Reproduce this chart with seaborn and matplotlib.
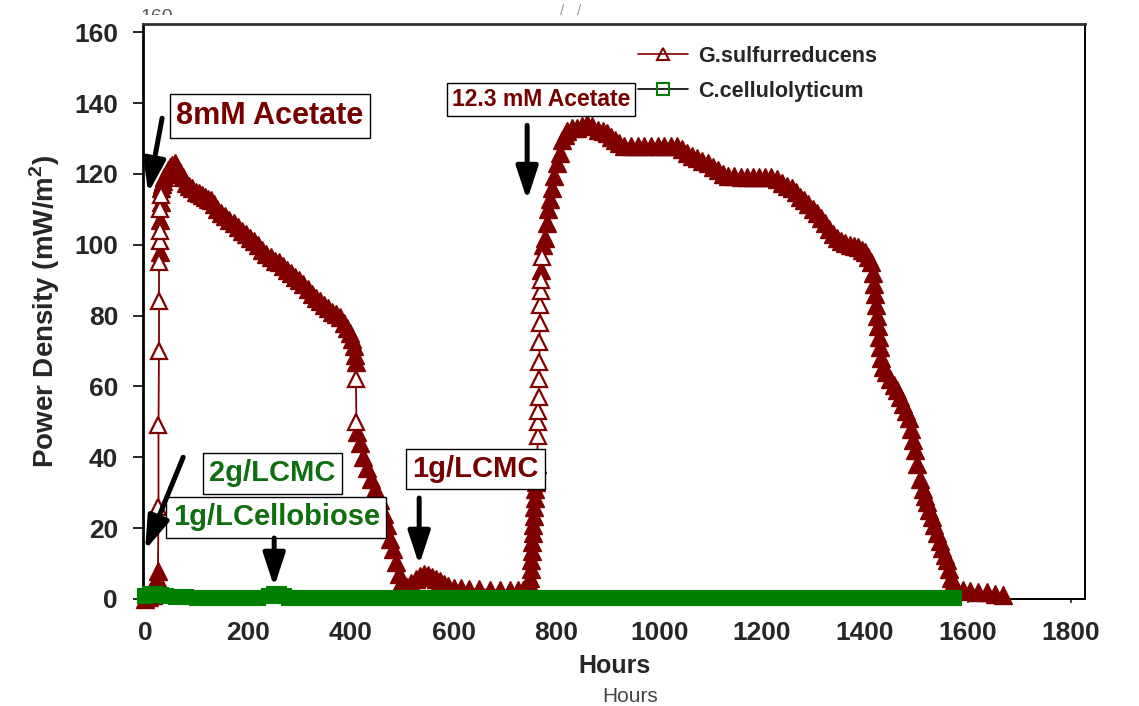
import matplotlib
matplotlib.use("Agg")
import numpy as np
import pandas as pd
import matplotlib.pyplot as plt
from matplotlib.lines import Line2D
from matplotlib.patches import Rectangle
import seaborn as sns

# G. sulfurreducens power density (mW/m2) vs time (h)
g_hours = [0, 8, 16, 21, 23, 24, 25, 26, 26, 27, 27, 27, 28, 28,
           28, 29, 29, 30, 30, 31, 32, 34, 37, 41, 45, 49, 53, 58,
           62, 68, 74, 80, 86, 92, 98, 104, 110, 116,
           122, 128, 134, 140, 148, 156, 164, 172, 180, 188,
           196, 204, 212, 220, 228, 236, 244, 252, 260, 268,
           276, 284, 292, 300, 308, 316, 324, 332, 340, 348,
           356, 364, 372, 380, 386, 392, 398, 403, 406, 408,
           410, 410, 411, 412, 418, 424, 432, 440, 448, 457,
           464, 470, 476, 482, 488, 494, 500, 506, 510,
           518, 526, 534, 542, 550, 558, 566, 574, 582, 590,
           600, 615, 630, 650, 670, 690, 710, 725, 735, 742, 746,
           749, 750, 751, 752, 753, 754, 755, 756, 757, 758,
           759, 760, 762, 764, 765, 765, 766,
           766, 767, 767, 768, 768, 769, 769, 770, 771, 774,
           778, 781, 784, 788, 791, 796, 801, 806, 811, 816, 820,
           830, 840, 850, 860, 870, 880, 890,
           898, 906, 914, 922, 932,
           945, 958, 971, 984, 997,
           1010, 1022, 1034, 1044, 1054,
           1064, 1074, 1084, 1094, 1104,
           1114, 1124, 1134, 1146, 1158,
           1170, 1182, 1194, 1206, 1218,
           1228, 1238, 1248, 1258, 1266,
           1274, 1282, 1290, 1298, 1306,
           1314, 1322, 1330, 1338, 1346,
           1354, 1362, 1370, 1378, 1386, 1394,
           1400, 1406, 1411, 1415, 1418, 1420, 1422, 1424, 1426, 1428,
           1430, 1432, 1435, 1440, 1448, 1456, 1462, 1468, 1474, 1480,
           1486, 1490, 1494, 1498, 1502, 1507, 1512, 1516, 1520, 1525,
           1530, 1535, 1540, 1545, 1550, 1555, 1559, 1563, 1567, 1571,
           1578, 1590, 1605, 1620, 1637, 1652, 1668]
g_power = [0, 0.5, 1, 2, 4, 6, 8, 26, 49, 70, 84, 95, 98, 101,
           104, 107, 110, 112, 114, 116, 117, 118, 119, 120, 121, 122, 122.5, 123,
           122, 120.5, 119, 117.5, 116.5, 116, 115, 114.5, 114, 113.5,
           113, 112.5, 111.5, 110, 109, 108, 107, 106, 105, 104,
           103, 102, 101, 100, 98.5, 97.5, 96.5, 95.5, 95, 94,
           93, 92, 91, 90, 89, 87.5, 86, 85, 84, 83,
           82, 81, 80.5, 79.5, 78, 76.5, 75, 73.5, 71.5, 69,
           67, 62, 50, 47, 44, 40, 37, 34, 31, 28,
           24, 21, 17, 14, 10.5, 7, 5, 3.8, 3.4,
           4.5, 5.5, 6.5, 7, 6.8, 6.2, 5.6, 5, 4.2, 3.6,
           3.2, 3, 2.8, 2.7, 2.6, 2.5, 2.4, 2.4, 2.6, 3.5, 4.5,
           6, 8.5, 11, 13.5, 16, 18.5, 21, 23.5, 26, 28.5,
           31, 33, 38, 46, 50, 53, 57,
           62, 67, 72.5, 78, 83, 87, 90, 93, 96.5, 100,
           102, 106, 110, 113, 116, 119.5, 123, 126, 129.5, 131, 132,
           133, 133, 133.5, 134, 133.5, 132.5, 132,
           131.5, 130.5, 129.5, 128.7, 128,
           128, 128, 128, 128, 128,
           128, 128, 128, 127, 126,
           125, 124.5, 123.5, 123, 122,
           121, 120, 119.5, 119.3, 119,
           119, 119, 119, 119, 119,
           118.5, 117.5, 116.5, 116, 115,
           113.5, 112.5, 111.5, 110, 109,
           107.5, 106, 104.5, 103, 102,
           101, 100.5, 100, 99.5, 99.3, 98.5,
           98, 96.5, 95, 92, 89, 86, 83, 80, 77, 74,
           71, 68, 65.5, 64, 62, 60.5, 59, 57, 55, 53,
           51, 48, 45, 42, 38, 34, 31, 29, 27.5, 25,
           23, 21, 18.6, 16.5, 14.5, 12.5, 11, 8.5, 6, 4.5,
           3.2, 2.5, 2.3, 2.1, 2, 1.5, 1]

# C. cellulolyticum power density, stays near zero
c_hours = [0, 10, 20, 30, 40, 60, 80, 100, 120, 140, 160, 180, 200, 220, 240, 250, 260, 270, 280,
           300, 320, 340, 360, 380, 400, 420, 440, 460, 480, 500, 520, 540, 560, 580,
           600, 620, 640, 660, 680, 700, 720, 740, 760, 780, 800, 820, 840, 860, 880,
           900, 920, 940, 960, 980, 1000, 1020, 1040, 1060, 1080, 1100, 1120, 1140, 1160, 1180,
           1200, 1220, 1240, 1260, 1280, 1300, 1320, 1340, 1360, 1380, 1400, 1420, 1440, 1460, 1480,
           1500, 1520, 1540, 1560, 1573]
c_power = [0.8, 1.3, 1.4, 1.2, 0.8, 0.6, 0.5, 0.4, 0.3, 0.3, 0.3, 0.3, 0.3, 0.3, 0.8, 1.4, 1.4, 0.8, 0.3,
           0.3, 0.3, 0.3, 0.3, 0.3, 0.3, 0.3, 0.3, 0.3, 0.3, 0.3, 0.3, 0.3, 0.3, 0.3,
           0.2, 0.2, 0.2, 0.2, 0.2, 0.2, 0.2, 0.2, 0.2, 0.2, 0.2, 0.2, 0.2, 0.2, 0.2,
           0.2, 0.2, 0.2, 0.2, 0.2, 0.2, 0.2, 0.2, 0.2, 0.2, 0.2, 0.2, 0.2, 0.2, 0.2,
           0.2, 0.2, 0.2, 0.2, 0.2, 0.2, 0.2, 0.2, 0.2, 0.2, 0.2, 0.2, 0.2, 0.2, 0.2,
           0.2, 0.2, 0.2, 0.2, 0.2]

x_ticks = [0, 200, 400, 600, 800, 1000, 1200, 1400, 1600, 1800]
y_ticks = [0, 20, 40, 60, 80, 100, 120, 140, 160]

RED = "#800000"
GREEN = "#008000"
TXT_RED = "#760000"
TXT_GREEN = "#0f6e0f"

sns.set_style("ticks")
plt.rcParams["font.family"] = ["Liberation Sans", "DejaVu Sans"]
plt.rcParams["mathtext.fontset"] = "custom"
plt.rcParams["mathtext.rm"] = "Liberation Sans"
plt.rcParams["mathtext.bf"] = "Liberation Sans:bold"

g_df = pd.DataFrame({"Hours": g_hours, "Power": g_power})
c_df = pd.DataFrame({"Hours": c_hours, "Power": c_power})

# on steep jumps the samples sit apart and read as open triangles,
# elsewhere they pile up into a solid band
dt = g_df["Hours"].diff().abs()
dp = g_df["Power"].diff().abs()
with np.errstate(divide="ignore", invalid="ignore"):
    slope = dp / dt
sparse = (slope > 3.2).fillna(False)

fig = plt.figure(figsize=(11.39, 7.06), dpi=100)
ax = fig.add_axes([0.1256, 0.1516, 0.8270, 0.8144])

sns.lineplot(data=g_df, x="Hours", y="Power", estimator=None, sort=False, ax=ax,
             color=RED, linewidth=1.3, clip_on=False, zorder=3)
sns.lineplot(data=g_df[~sparse], x="Hours", y="Power", estimator=None, sort=False, ax=ax,
             linestyle="", marker="^", markersize=12.5, markerfacecolor=RED,
             markeredgecolor=RED, markeredgewidth=1.0, clip_on=False, zorder=3)
sns.lineplot(data=g_df[sparse], x="Hours", y="Power", estimator=None, sort=False, ax=ax,
             linestyle="", marker="^", markersize=11, markerfacecolor="white",
             markeredgecolor=RED, markeredgewidth=1.6, clip_on=False, zorder=3)
sns.lineplot(data=c_df, x="Hours", y="Power", estimator=None, sort=False, ax=ax,
             color="black", linewidth=1.0, marker="s", markersize=10,
             markerfacecolor=GREEN, markeredgecolor=GREEN, markeredgewidth=1.5,
             clip_on=False, zorder=4)

ax.set_xlim(-4, 1828)
ax.set_ylim(0, 162.3)
ax.set_xticks(x_ticks)
ax.set_yticks(y_ticks)
ax.tick_params(axis="y", length=7, width=1.4, pad=11, labelsize=19)
ax.tick_params(axis="x", length=3, width=1.2, pad=13, labelsize=19)
for lab in ax.get_xticklabels() + ax.get_yticklabels():
    lab.set_fontweight("bold")

for side, lw in [("left", 2.0), ("top", 2.0), ("right", 1.4), ("bottom", 1.4)]:
    ax.spines[side].set_linewidth(lw)
    ax.spines[side].set_color("black")
ax.spines["top"].set_color("#333333")

ax.set_xlabel("Hours", fontsize=18, fontweight="bold", va="center")
ax.xaxis.set_label_coords(0.5, -0.1165)
ax.set_ylabel("Power Density (mW/m$^\\mathbf{2}$)", fontsize=20, fontweight="bold", va="center")
ax.yaxis.set_label_coords(-0.104, 0.5)

# legend
handles = [
    Line2D([], [], color=RED, lw=1.2, marker="^", ms=8, mfc="none", mec=RED, mew=1.5),
    Line2D([], [], color="black", lw=1.2, marker="s", ms=8, mfc="none", mec=GREEN, mew=1.5),
]
ax.legend(handles, ["G.sulfurreducens", "C.cellulolyticum"], loc="upper left",
          bbox_to_anchor=(638 / 1139, 1 - 46 / 706), bbox_transform=fig.transFigure,
          frameon=False, borderpad=0, borderaxespad=0, handlelength=2.3,
          handletextpad=0.5, labelspacing=0.65, numpoints=1,
          prop={"weight": "bold", "size": 15.5})

# labelled boxes
def box_label(x, y, text, color, size=20, family=None):
    kw = {}
    if family:
        kw["family"] = family
    ax.text(x, y, text, ha="center", va="center", fontsize=size, fontweight="bold",
            color=color, zorder=6,
            bbox=dict(boxstyle="square,pad=0.22", fc="white", ec="black", lw=1.0), **kw)

box_label(243, 136.3, "8mM Acetate", TXT_RED, size=22)
box_label(770, 141, "12.3 mM Acetate", TXT_RED, size=16.5,
          family=["Liberation Sans Narrow", "Liberation Sans"])
box_label(248, 35.5, "2g/LCMC", TXT_GREEN, size=21)
box_label(255, 23, "1g/LCellobiose", TXT_GREEN, size=21)
box_label(642, 36.7, "1g/LCMC", TXT_RED, size=21)

# arrows
def arrow(x0, y0, x1, y1):
    ax.annotate("", xy=(x1, y1), xytext=(x0, y0), zorder=7,
                arrowprops=dict(arrowstyle="-|>,head_length=1.0,head_width=0.33",
                                mutation_scale=20, lw=3.6, color="black",
                                shrinkA=0, shrinkB=0))

arrow(33, 135.7, 6, 114.6)
arrow(743, 133.7, 743, 112.6)
arrow(74, 40, 0, 13.8)
arrow(251, 17.2, 251, 3.4)
arrow(533, 28.5, 533, 9.6)

# faint leftovers of the pasted image
fig.text(630 / 1139, 1 - 697 / 706, "Hours", fontsize=15, color="#444444",
         ha="center", va="center")
fig.text(571 / 1139, 1 - 11 / 706, "/   /", fontsize=11, color="#9a9a9a",
         ha="center", va="center")
fig.text(157 / 1139, 1 - 17 / 706, "160", fontsize=14, color="#555555",
         ha="center", va="center")
fig.patches.append(Rectangle((130 / 1139, 1 - 23 / 706), 60 / 1139, 8 / 706,
                             transform=fig.transFigure, fc="white", ec="none", zorder=10))

fig.savefig("out.png", dpi=100)
